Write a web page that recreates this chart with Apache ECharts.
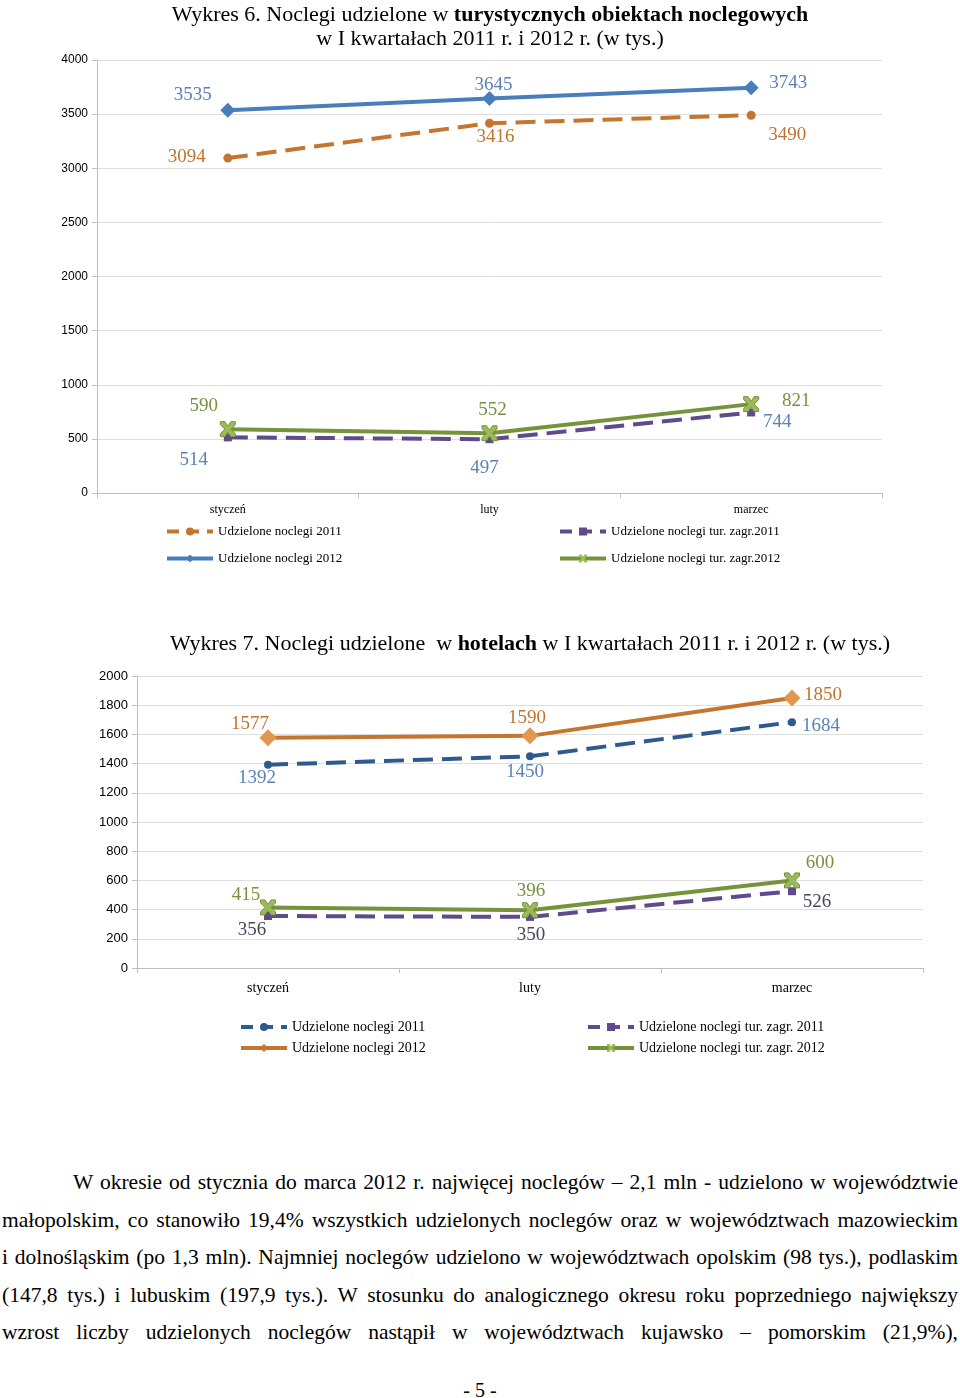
<!DOCTYPE html>
<html><head><meta charset="utf-8">
<script src="https://cdn.jsdelivr.net/npm/echarts@6/dist/echarts.min.js"></script>
<style>
html,body{margin:0;padding:0;background:#fff;width:960px;height:1398px;overflow:hidden;position:relative;font-family:"Liberation Serif","Times New Roman",serif;}
#c1{position:absolute;left:0;top:0;width:960px;height:600px;}
#c2{position:absolute;left:0;top:600px;width:960px;height:500px;}
#txt{position:absolute;left:2px;top:1164px;width:956px;font-size:21.5px;line-height:37.5px;color:#000;}
#txt div{text-align:justify;text-align-last:justify;white-space:nowrap;}
#pg{position:absolute;left:0;width:960px;top:1378px;text-align:center;font-size:20px;line-height:24px;}
</style></head><body>
<div id="c1"></div><div id="c2"></div>
<div id="txt">
<div style="padding-left:71px">W okresie od stycznia do marca 2012 r. najwięcej noclegów – 2,1 mln - udzielono w województwie</div>
<div>małopolskim, co stanowiło 19,4% wszystkich udzielonych noclegów oraz w województwach mazowieckim</div>
<div>i dolnośląskim (po 1,3 mln). Najmniej noclegów udzielono w województwach opolskim (98 tys.), podlaskim</div>
<div>(147,8 tys.) i lubuskim (197,9 tys.). W stosunku do analogicznego okresu roku poprzedniego największy</div>
<div>wzrost liczby udzielonych noclegów nastąpił w województwach kujawsko – pomorskim (21,9%),</div>
</div>
<div id="pg">- 5 -</div>
<script>
// ---- data: chart 1 (Wykres 6) ----
const months = ['styczeń', 'luty', 'marzec'];
const c1Names = ['Udzielone noclegi 2011', 'Udzielone noclegi 2012', 'Udzielone noclegi tur. zagr.2011', 'Udzielone noclegi tur. zagr.2012'];
const c1Noclegi2011 = [3094, 3416, 3490];
const c1Noclegi2012 = [3535, 3645, 3743];
const c1Zagr2011 = [514, 497, 744];
const c1Zagr2012 = [590, 552, 821];
const c1Ticks = [0, 500, 1000, 1500, 2000, 2500, 3000, 3500, 4000];
// ---- data: chart 2 (Wykres 7) ----
const c2Names = ['Udzielone noclegi 2011', 'Udzielone noclegi 2012', 'Udzielone noclegi tur. zagr. 2011', 'Udzielone noclegi tur. zagr. 2012'];
const c2Noclegi2011 = [1392, 1450, 1684];
const c2Noclegi2012 = [1577, 1590, 1850];
const c2Zagr2011 = [356, 350, 526];
const c2Zagr2012 = [415, 396, 600];
const c2Ticks = [0, 200, 400, 600, 800, 1000, 1200, 1400, 1600, 1800, 2000];

// ---- styling (label offsets, colours) ----
const SERIF = '"Liberation Serif","Times New Roman",serif';
const SANS = '"Liberation Sans",Arial,sans-serif';
const XPATH = 'path://M0,0 L3,0 L5,3 L7,0 L10,0 L10,2 L7,5 L10,8 L10,10 L7,10 L5,7 L3,10 L0,10 L0,8 L3,5 L0,2 Z';

function mkSeries(name, data, color, labelColor, dashed, symbol, symbolSize, offsets, labelSize, symColor) {
  return {
    name, type: 'line', data: data.map((v, i) => ({
      value: v,
      label: { offset: offsets[i] }
    })),
    symbol, symbolSize, showAllSymbol: true,
    lineStyle: { color, width: 4, type: dashed ? [20, 9] : 'solid', cap: 'butt' },
    itemStyle: { color: symColor || color, borderColor: color, borderWidth: symbol === XPATH ? 1 : 0 },
    label: { show: true, position: 'inside', color: labelColor, fontFamily: SERIF, fontSize: labelSize },
    emphasis: { disabled: true },
    z: dashed ? 2 : 3
  };
}

function yAxis(ticks, fs) {
  return {
    type: 'value', min: ticks[0], max: ticks[ticks.length - 1], interval: ticks[1] - ticks[0],
    axisLine: { show: true, lineStyle: { color: '#bfbfbf' } },
    axisTick: { show: true, length: 5, lineStyle: { color: '#bfbfbf' } },
    splitLine: { lineStyle: { color: '#dedede' } },
    axisLabel: { color: '#000', fontFamily: SANS, fontSize: fs, margin: 9, formatter: v => String(v) }
  };
}
function xAxis(fs, margin) {
  return {
    type: 'category', data: months, boundaryGap: true,
    axisLine: { lineStyle: { color: '#bfbfbf' } },
    axisTick: { show: true, length: 5, lineStyle: { color: '#bfbfbf' } },
    axisLabel: { color: '#000', fontFamily: SERIF, fontSize: fs, margin }
  };
}
function legend(left, top, items, fs, gap) {
  return {
    left, top, orient: 'vertical', itemWidth: 46, itemHeight: 10, itemGap: gap,
    data: items.map(it => ({
      name: it.name,
      lineStyle: { width: 4, color: it.color, type: it.dashed ? [12, 8] : 'solid' },
      itemStyle: { color: it.sym || it.color, borderWidth: 0 }
    })),
    selectedMode: false, textStyle: { fontFamily: SERIF, fontSize: fs, color: '#000', padding: [0, 0, 0, 0] }
  };
}

const ch1 = echarts.init(document.getElementById('c1'), null, { renderer: 'canvas' });
ch1.setOption({
  animation: false,
  title: {
    left: 485, top: -2, textAlign: 'center',
    text: '{n|Wykres 6. Noclegi udzielone w }{b|turystycznych obiektach noclegowych}\n{n|w I kwartałach 2011 r. i 2012 r. (w tys.)}',
    textStyle: { fontWeight: 'normal', rich: {
      n: { fontFamily: SERIF, fontSize: 22, color: '#000', fontWeight: 'normal', lineHeight: 24 },
      b: { fontFamily: SERIF, fontSize: 22, color: '#000', fontWeight: 'bold', lineHeight: 24 }
    } }
  },
  grid: { left: 97, right: 78, top: 60, height: 433 },
  xAxis: xAxis(12, 11),
  yAxis: yAxis(c1Ticks, 12),
  legend: [
    legend(160, 520, [{ name: c1Names[0], color: '#c5762e', dashed: true }, { name: c1Names[1], color: '#4a7ebb' }], 13, 14),
    legend(553, 520, [{ name: c1Names[2], color: '#5f4a8b', dashed: true }, { name: c1Names[3], color: '#76933c', sym: '#9bbb59' }], 13, 14)
  ],
  series: [
    mkSeries(c1Names[0], c1Noclegi2011, '#c5762e', '#c0742e', true, 'circle', 9, [[-41, -1], [6, 14], [36, 20]], 19),
    mkSeries(c1Names[1], c1Noclegi2012, '#4a7ebb', '#5b82b8', false, 'diamond', 15, [[-35, -15], [4, -13], [37, -5]], 19),
    mkSeries(c1Names[2], c1Zagr2011, '#5f4a8b', '#5b82b8', true, 'rect', 8, [[-34, 23], [-5, 29], [26, 10]], 19),
    mkSeries(c1Names[3], c1Zagr2012, '#76933c', '#76923c', false, XPATH, 15, [[-24, -23], [3, -23], [45, -3]], 19, '#9bbb59')
  ]
});

const ch2 = echarts.init(document.getElementById('c2'), null, { renderer: 'canvas' });
ch2.setOption({
  animation: false,
  title: {
    left: 525, top: 27, textAlign: 'center',
    text: '{n|Wykres 7. Noclegi udzielone  w }{b|hotelach}{n| w I kwartałach 2011 r. i 2012 r. (w tys.)}',
    textStyle: { fontWeight: 'normal', rich: {
      n: { fontFamily: SERIF, fontSize: 22, color: '#000', fontWeight: 'normal', lineHeight: 24 },
      b: { fontFamily: SERIF, fontSize: 22, color: '#000', fontWeight: 'bold', lineHeight: 24 }
    } }
  },
  grid: { left: 137, right: 37, top: 76, height: 292 },
  xAxis: xAxis(14, 13),
  yAxis: yAxis(c2Ticks, 13),
  legend: [
    legend(234, 415, [{ name: c2Names[0], color: '#2f5a8e', dashed: true }, { name: c2Names[1], color: '#c5762e' }], 14, 7),
    legend(581, 415, [{ name: c2Names[2], color: '#5f4a8b', dashed: true }, { name: c2Names[3], color: '#76933c', sym: '#9bbb59' }], 14, 7)
  ],
  series: [
    mkSeries(c2Names[0], c2Noclegi2011, '#2f5a8e', '#5b82b8', true, 'circle', 8, [[-11, 13], [-5, 16], [29, 4]], 19),
    mkSeries(c2Names[1], c2Noclegi2012, '#c5762e', '#c0742e', false, 'diamond', 17, [[-18, -14], [-3, -18], [31, -3]], 19, '#e39650'),
    mkSeries(c2Names[2], c2Zagr2011, '#5f4a8b', '#4b4460', true, 'rect', 8, [[-16, 14], [1, 18], [25, 11]], 19),
    mkSeries(c2Names[3], c2Zagr2012, '#76933c', '#76923c', false, XPATH, 15, [[-22, -12], [1, -19], [28, -17]], 19, '#9bbb59')
  ]
});
</script>
</body></html>
